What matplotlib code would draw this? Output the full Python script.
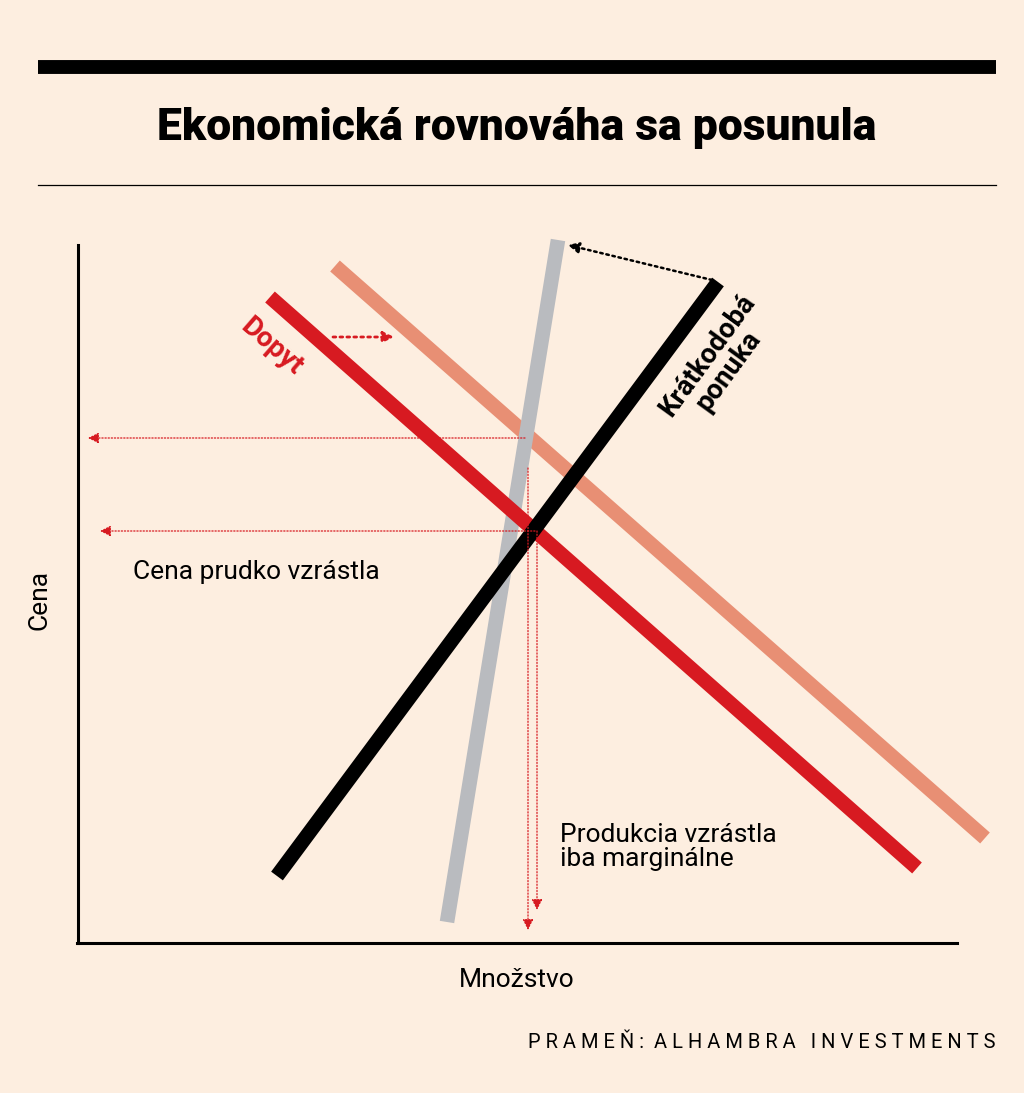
import matplotlib
matplotlib.use("Agg")
import matplotlib.pyplot as plt

# curve endpoints (chart units, y downward)
demand_x = [270, 917]; demand_y = [297, 868]
demand2_x = [335, 985]; demand2_y = [266, 838]
supply_x = [277, 718]; supply_y = [876, 282]
supply2_x = [447, 558]; supply2_y = [922, 240]

BG = "#fdeee0"
RED = "#d71a21"
fig = plt.figure(figsize=(10.24, 10.93), dpi=100, facecolor=BG)
ax = fig.add_axes([0, 0, 1, 1])
ax.set_xlim(0, 1024); ax.set_ylim(1093, 0); ax.axis("off")
ax.set_facecolor(BG)

FONT = "Roboto"
ax.plot([38, 996], [67, 67], color="black", lw=10, solid_capstyle="butt")
ax.plot([38, 996], [185, 185], color="black", lw=0.9)
ax.text(517, 128, "Ekonomická rovnováha sa posunula", ha="center", va="center",
        fontsize=32, fontweight="black", family=FONT)

ax.plot([78, 78], [245, 943], color="black", lw=2.2)
ax.plot([77, 957], [943, 943], color="black", lw=2.2)

lw = 10.5
ax.plot(demand2_x, demand2_y, color="#e88f74", lw=lw, solid_capstyle="butt")
ax.plot(supply2_x, supply2_y, color="#b9bbbf", lw=lw, solid_capstyle="butt")
ax.plot(demand_x, demand_y, color=RED, lw=lw, solid_capstyle="butt")
ax.plot(supply_x, supply_y, color="black", lw=lw, solid_capstyle="butt")

def arrow(x0, y0, x1, y1, c, lw=1.0, ls=(0, (1, 1.5))):
    ax.annotate("", xy=(x1, y1), xytext=(x0, y0),
                arrowprops=dict(arrowstyle="-|>", color=c, lw=lw, linestyle=ls,
                                mutation_scale=16, shrinkA=0, shrinkB=0))

arrow(525, 438, 88, 438, RED, 0.9)
arrow(535, 531, 100, 531, RED, 0.9)
arrow(528, 468, 528, 930, RED, 0.9)
arrow(537, 531, 537, 910, RED, 0.9)
arrow(333, 337, 394, 337, RED, 2.0)
arrow(712, 280, 568, 245, "black", 1.8)

ax.text(272, 347, "Dopyt", color=RED, fontsize=20, fontweight="bold", family=FONT,
        rotation=-41, ha="center", va="center", rotation_mode="anchor")
ax.text(718, 363, "Krátkodobá\nponuka", color="black", fontsize=20, fontweight="bold",
        family=FONT, rotation=54, ha="center", va="center", rotation_mode="anchor",
        linespacing=0.95)
ax.text(133, 572, "Cena prudko vzrástla", fontsize=19, family=FONT, ha="left", va="center")
ax.text(40, 600, "Cena", fontsize=19, family=FONT, rotation=90, ha="center", va="center")
ax.text(517, 980, "Množstvo", fontsize=19, family=FONT, ha="center", va="center")
ax.text(560, 847, "Produkcia vzrástla\niba marginálne", fontsize=19, family=FONT,
        ha="left", va="center", linespacing=1.05)
ax.text(996, 1042, "P R A M E Ň :  A L H A M B R A   I N V E S T M E N T S",
        fontsize=14.5, family=FONT, ha="right", va="center")

fig.savefig("out.png", dpi=100, facecolor=BG)
